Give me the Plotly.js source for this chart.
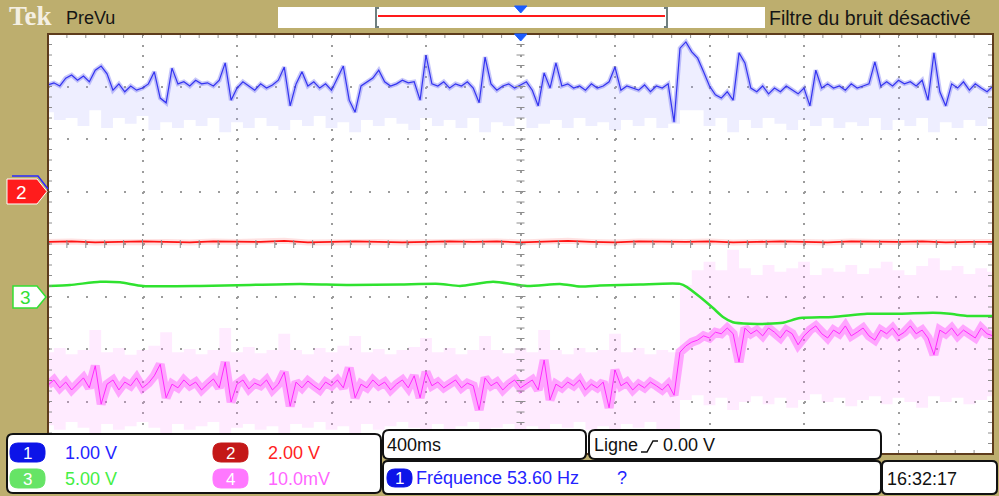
<!DOCTYPE html>
<html><head><meta charset="utf-8">
<script src="https://cdn.plot.ly/plotly-3.0.1.min.js"></script>
<style>html,body{margin:0;padding:0;background:#bdae6e;overflow:hidden}#chart{width:999px;height:496px}</style>
</head><body><div id="chart"></div>
<script>
// ---------------- data (screen divisions, 400 ms/div, trigger at centre) ----------------
const timeStart = -2.0;          // s  (left edge of screen)
const fineStep = 0.025;          // s between samples of ch1 / ch4
const envStep = 0.05;            // s between envelope samples
const ch2Step = 0.1;             // s between ch2 samples

const ch1Div = [3.03,3.07,3.01,3.16,3.22,3.12,3.20,3.09,3.31,3.39,
3.24,2.93,3.05,2.90,3.01,2.93,2.97,3.05,3.28,2.78,
2.69,3.35,3.05,3.09,3.01,3.12,3.05,3.07,3.01,3.12,
3.45,2.74,2.97,3.09,3.01,2.93,3.05,2.97,3.03,3.12,
3.37,2.63,3.05,3.28,3.01,3.09,2.97,3.05,2.93,3.16,
3.39,2.74,2.51,3.01,3.09,3.16,3.31,3.09,3.01,3.05,
3.12,3.07,3.09,2.74,3.60,3.05,3.01,3.09,2.97,3.05,
3.01,3.09,2.97,2.69,3.56,3.05,2.93,3.01,3.05,2.97,
3.03,3.09,2.93,2.63,3.26,2.97,3.45,3.01,3.05,2.97,
3.01,2.93,3.05,2.97,3.01,3.09,3.37,2.93,3.01,2.97,
2.93,3.03,2.90,3.01,2.97,3.05,2.32,3.73,3.85,3.66,
3.54,3.28,3.01,2.84,2.78,2.90,2.74,3.64,3.45,2.97,
2.90,3.01,2.86,2.97,2.90,3.01,2.93,2.86,2.97,2.63,
3.31,2.97,3.05,2.97,3.01,2.93,3.05,2.97,3.01,3.05,
3.47,3.01,3.09,3.01,3.12,3.05,3.09,3.01,3.12,2.74,
3.64,2.90,2.63,3.05,2.97,3.09,2.93,3.05,2.97,2.90,
3.01];

const ch1EnvLow = [2.51,2.36,2.40,2.25,2.55,2.21,2.40,2.29,2.44,2.17,
2.32,2.21,2.36,2.25,2.40,2.13,2.32,2.21,2.40,2.25,
2.17,2.36,2.25,2.44,2.21,2.32,2.13,2.36,2.25,2.40,
2.29,2.17,2.40,2.25,2.36,2.21,2.40,2.13,2.32,2.25,
2.40,2.21,2.29,2.36,2.21,2.40,2.25,2.32,2.17,2.36,
2.25,2.40,2.21,2.29,2.55,2.55,2.25,2.40,2.13,2.36,
2.21,2.40,2.29,2.17,2.36,2.25,2.40,2.21,2.32,2.25,
2.40,2.17,2.36,2.25,2.40,2.13,2.32,2.21,2.36,2.25,
2.40];

const ch2Div = [0.04,0.05,0.03,0.04,0.05,0.04,0.03,0.05,0.04,0.04,
0.06,0.03,0.04,0.05,0.04,0.03,0.04,0.05,0.04,0.05,
0.03,0.04,0.06,0.04,0.03,0.05,0.04,0.04,0.05,0.03,
0.04,0.05,0.04,0.03,0.05,0.04,0.04,0.05,0.03,0.04,0.04];

const ch3Time = [-2.000,-1.907,-1.780,-1.695,-1.598,-1.357,-1.145,-0.933,-0.722,-0.510,
-0.341,-0.256,-0.116,0.028,0.167,0.252,0.336,0.506,0.675,0.705,
0.760,0.815,0.857,0.899,0.971,1.043,1.111,1.183,1.323,1.467,
1.606,1.746,1.818,1.890,2.000];
const ch3Div = [-0.80,-0.78,-0.72,-0.73,-0.80,-0.80,-0.78,-0.76,-0.78,-0.77,
-0.76,-0.80,-0.72,-0.80,-0.76,-0.81,-0.79,-0.77,-0.76,-0.82,
-1.01,-1.22,-1.39,-1.49,-1.52,-1.52,-1.50,-1.41,-1.39,-1.33,
-1.33,-1.31,-1.33,-1.37,-1.37];

const ch4Div = [-2.69,-2.59,-2.74,-2.63,-2.78,-2.67,-2.55,-2.74,-2.32,-3.05,
-2.67,-2.59,-2.78,-2.63,-2.70,-2.55,-2.74,-2.65,-2.51,-2.29,
-2.93,-2.67,-2.74,-2.59,-2.70,-2.63,-2.78,-2.67,-2.57,-2.74,
-2.25,-3.01,-2.67,-2.59,-2.76,-2.65,-2.70,-2.59,-2.78,-2.67,
-2.44,-3.09,-2.63,-2.74,-2.61,-2.70,-2.78,-2.63,-2.70,-2.59,
-2.74,-2.36,-2.93,-2.67,-2.74,-2.59,-2.70,-2.63,-2.78,-2.67,
-2.59,-2.74,-2.51,-2.93,-2.44,-2.70,-2.63,-2.74,-2.67,-2.59,
-2.74,-2.65,-2.70,-3.16,-2.55,-2.70,-2.63,-2.78,-2.67,-2.59,
-2.74,-2.67,-2.59,-2.78,-2.21,-2.97,-2.67,-2.74,-2.63,-2.70,
-2.59,-2.78,-2.67,-2.74,-2.63,-3.12,-2.40,-2.70,-2.63,-2.78,
-2.67,-2.74,-2.63,-2.70,-2.78,-2.67,-2.88,-2.06,-1.94,-1.87,
-1.83,-1.75,-1.79,-1.68,-1.71,-1.60,-1.71,-2.25,-1.60,-1.71,
-1.64,-1.75,-1.60,-1.68,-1.79,-1.64,-1.71,-1.92,-1.75,-1.64,
-1.56,-1.71,-1.79,-1.64,-1.71,-1.56,-1.75,-1.68,-1.60,-1.75,
-1.83,-1.64,-1.71,-1.60,-1.75,-1.68,-1.56,-1.71,-1.64,-1.79,
-2.11,-1.64,-1.71,-1.60,-1.75,-1.64,-1.71,-1.79,-1.60,-1.71,
-1.75];

const ch4EnvHigh = [-2.06,-1.98,-2.10,-2.02,-1.64,-2.06,-1.98,-2.11,-2.02,-1.94,
-1.68,-2.06,-2.00,-2.10,-2.02,-1.60,-2.06,-1.96,-2.08,-2.02,
-1.71,-2.02,-2.10,-1.98,-2.06,-1.94,-1.75,-2.06,-2.00,-2.10,
-2.02,-1.96,-1.79,-2.06,-1.98,-2.10,-2.02,-1.75,-2.02,-2.08,
-1.98,-2.06,-1.64,-2.02,-2.10,-1.98,-2.06,-2.02,-1.71,-2.06,
-1.98,-2.10,-2.02,-2.06,-0.78,-0.50,-0.34,-0.50,-0.11,-0.46,
-0.59,-0.40,-0.53,-0.46,-0.34,-0.59,-0.46,-0.53,-0.40,-0.57,
-0.46,-0.34,-0.50,-0.59,-0.42,-0.27,-0.50,-0.42,-0.57,-0.46,
-0.53];
const ch4EnvLow = [-3.45,-3.54,-3.39,-3.50,-3.70,-3.43,-3.54,-3.47,-3.39,-3.50,
-3.66,-3.43,-3.54,-3.47,-3.39,-3.70,-3.50,-3.43,-3.54,-3.47,
-3.73,-3.43,-3.50,-3.39,-3.54,-3.47,-3.66,-3.43,-3.54,-3.47,
-3.39,-3.50,-3.62,-3.43,-3.54,-3.47,-3.39,-3.66,-3.50,-3.43,
-3.54,-3.47,-3.70,-3.43,-3.50,-3.39,-3.54,-3.47,-3.70,-3.43,
-3.50,-3.39,-3.54,-3.73,-2.97,-2.88,-3.07,-2.93,-3.16,-3.01,
-2.90,-3.05,-2.93,-3.12,-2.97,-2.86,-3.01,-2.93,-3.09,-2.97,
-2.90,-3.05,-2.93,-3.01,-3.12,-2.90,-3.01,-2.93,-3.05,-2.97,
-2.90];

const channelLabels = ['1', '2', '3', '4'];
const channelScales = ['1.00 V', '2.00 V', '5.00 V', '10.0mV'];
const timebaseLabel = '400ms';
const triggerSource = 'Ligne';
const triggerLevel = '0.00 V';
const measureLabel = 'Fréquence 53.60 Hz';
const clockLabel = '16:32:17';
const headerLabels = ['Tek', 'PreVu', 'Filtre du bruit désactivé'];

// ---------------- helpers ----------------
function sampleTimes(n, step) { return Array.from({length: n}, (_, i) => +(timeStart + i * step).toFixed(4)); }
const tFine = sampleTimes(ch1Div.length, fineStep);
const tEnv = sampleTimes(ch1EnvLow.length, envStep);
const tCh2 = sampleTimes(ch2Div.length, ch2Step);

const ML = 48, MR = 6, MT = 34, MB = 42, W = 999, H = 496;
const PW = W - ML - MR, PH = H - MT - MB;
const X = px => (px - ML) / PW;
const Y = py => (H - MB - py) / PH;
const shapes = [];
const annotations = [];
function seg(x0, y0, x1, y1, color, width) {
  shapes.push({type: 'line', xref: 'paper', yref: 'paper', x0: X(x0), y0: Y(y0), x1: X(x1), y1: Y(y1), line: {color: color, width: width}});
}
function poly(pts, fill, color, width, closed) {
  const d = 'M' + pts.map(p => X(p[0]).toFixed(5) + ',' + Y(p[1]).toFixed(5)).join('L') + (closed === false ? '' : 'Z');
  shapes.push({type: 'path', xref: 'paper', yref: 'paper', path: d, fillcolor: fill || 'rgba(0,0,0,0)', line: {color: color || 'rgba(0,0,0,0)', width: width || 0}});
}
function rrect(x0, y0, x1, y1, r, fill, color, width) {
  const f = (a, b) => X(a).toFixed(5) + ',' + Y(b).toFixed(5);
  const d = 'M' + f(x0 + r, y0) + 'L' + f(x1 - r, y0) + 'Q' + f(x1, y0) + ' ' + f(x1, y0 + r) +
    'L' + f(x1, y1 - r) + 'Q' + f(x1, y1) + ' ' + f(x1 - r, y1) +
    'L' + f(x0 + r, y1) + 'Q' + f(x0, y1) + ' ' + f(x0, y1 - r) +
    'L' + f(x0, y0 + r) + 'Q' + f(x0, y0) + ' ' + f(x0 + r, y0) + 'Z';
  shapes.push({type: 'path', xref: 'paper', yref: 'paper', path: d, fillcolor: fill, line: {color: color || 'rgba(0,0,0,0)', width: width || 0}});
}
function txt(text, px, py, size, color, anchor, family) {
  annotations.push({text: text, xref: 'paper', yref: 'paper', x: X(px), y: Y(py), showarrow: false,
    xanchor: anchor || 'left', yanchor: 'middle', font: {size: size, color: color, family: family || 'Liberation Sans, Arial, sans-serif'}});
}

// ---------------- graticule ticks ----------------
const tickCol = '#8e8e8e';
const dx = PW / 50, dy = PH / 40;
for (let k = 1; k < 50; k++) {
  const x = ML + k * dx;
  seg(x, MT, x, MT + 4, tickCol, 1);
  seg(x, H - MB, x, H - MB - 4, tickCol, 1);
  const big = k % 5 === 0 ? 5 : 4;
  seg(x, 244 - big, x, 244 + big, tickCol, 1);
}
for (let k = 1; k < 40; k++) {
  const y = MT + k * dy;
  seg(ML, y, ML + 4, y, tickCol, 1);
  seg(W - MR, y, W - MR - 5, y, tickCol, 1);
  const big = k % 5 === 0 ? 5 : 4;
  seg(520.5 - big, y, 520.5 + big, y, tickCol, 1);
}
// plot frame
shapes.push({type: 'rect', xref: 'paper', yref: 'paper', x0: 0, y0: 0, x1: 1, y1: 1, line: {color: '#5e3c1c', width: 2}, fillcolor: 'rgba(0,0,0,0)'});

// ---------------- header ----------------
shapes.push({type: 'rect', xref: 'paper', yref: 'paper', x0: X(278), x1: X(765), y0: Y(28), y1: Y(7), fillcolor: '#ffffff', line: {width: 0}});
poly([[379, 8], [376, 8], [376, 27], [379, 27]], null, '#6f7f7f', 2, false);
poly([[664, 8], [667, 8], [667, 27], [664, 27]], null, '#6f7f7f', 2, false);
seg(378, 16, 665, 16, '#ff1a1a', 2);
poly([[514.5, 6], [527, 6], [520.7, 13]], '#1a5cff', '#1a5cff', 1);
poly([[514.5, 34], [527, 34], [520.7, 41]], '#1a5cff', '#1a5cff', 1);
txt('<b>' + headerLabels[0] + '</b>', 7, 16, 27, '#f4efe2', 'left', 'Liberation Serif, Times New Roman, serif');
txt(headerLabels[1], 64, 18, 18, '#151515');
txt(headerLabels[2], 767, 18, 19.5, '#151515');

// ---------------- channel ground markers ----------------
poly([[12, 176], [38, 176], [48, 189]], null, '#2a2aff', 1.5, false);
poly([[7, 179], [37, 179], [47, 191.5], [37, 204], [7, 204]], '#ff1c1c', '#ffffff', 1);
txt(channelLabels[1], 21, 192, 19, '#ffffff', 'center');
poly([[13, 286], [37, 286], [46, 297], [37, 308], [13, 308]], '#ffffff', '#33e033', 1.5);
txt(channelLabels[2], 25, 297, 19, '#33e033', 'center');

// ---------------- bottom read-outs ----------------
rrect(7, 434, 381, 493, 6, '#ffffff', '#111111', 2);
rrect(383, 430, 586, 459, 6, '#ffffff', '#111111', 2);
rrect(589, 430, 881, 459, 6, '#ffffff', '#111111', 2);
rrect(383, 461, 881, 494, 5, '#ffffff', '#111111', 2);
rrect(882, 461, 997, 494, 5, '#ffffff', '#111111', 2);
const badgeFill = ['#0c14e8', '#c41818', '#66e466', '#ff78ff'];
const labelCol = ['#2424ff', '#ff2222', '#44ee44', '#ff66ff'];
const badgePos = [[10, 443, 45, 462], [213, 443, 248, 462], [10, 469, 45, 488], [213, 469, 248, 488]];
for (let c = 0; c < 4; c++) {
  const b = badgePos[c];
  rrect(b[0], b[1], b[2], b[3], 8, badgeFill[c], badgeFill[c], 1);
  txt(channelLabels[c], (b[0] + b[2]) / 2, (b[1] + b[3]) / 2 + 0.5, 17, '#ffffff', 'center');
  txt(channelScales[c], b[0] + 53, (b[1] + b[3]) / 2, 18, labelCol[c]);
}
txt(timebaseLabel, 385, 445, 18, '#111111');
txt(triggerSource, 592, 445, 18, '#111111');
poly([[641, 452], [647, 452], [653, 441], [658, 441]], null, '#111111', 1.5, false);
txt(triggerLevel, 661, 445, 18, '#111111');
rrect(387, 469, 412, 487, 8, badgeFill[0], badgeFill[0], 1);
txt(channelLabels[0], 399.5, 478.5, 17, '#ffffff', 'center');
txt(measureLabel, 414, 478, 18, '#2424ff');
txt('?', 615, 478, 18, '#2424ff');
txt(clockLabel, 885, 479, 18, '#111111');

// ---------------- traces ----------------
const traces = [
  {x: tEnv, y: ch4EnvHigh, mode: 'lines', line: {width: 0, color: 'rgba(0,0,0,0)', shape: 'hvh'}},
  {x: tEnv, y: ch4EnvLow, mode: 'lines', line: {width: 0, color: 'rgba(0,0,0,0)', shape: 'hvh'}, fill: 'tonexty', fillcolor: 'rgba(255,150,255,0.19)'},
  {x: tEnv, y: ch1EnvLow, mode: 'lines', line: {width: 0, color: 'rgba(0,0,0,0)', shape: 'hvh'}},
  {x: tFine, y: ch1Div, mode: 'lines', fill: 'tonexty', fillcolor: 'rgba(170,170,255,0.2)', line: {color: 'rgba(70,70,240,0.3)', width: 4.5}},
  {x: tFine, y: ch1Div, mode: 'lines', line: {color: '#3434f0', width: 1.2}},
  {x: tFine, y: ch4Div, mode: 'lines', line: {color: 'rgba(255,60,255,0.4)', width: 9}},
  {x: tFine, y: ch4Div, mode: 'lines', line: {color: '#ff2cff', width: 1}},
  {x: ch3Time, y: ch3Div, mode: 'lines', line: {color: '#2fe22f', width: 2.5, shape: 'spline', smoothing: 0.6}},
  {x: tCh2, y: ch2Div, mode: 'lines', line: {color: 'rgba(255,90,90,0.18)', width: 6}},
  {x: tCh2, y: ch2Div, mode: 'lines', line: {color: '#ff1414', width: 1.8}}
];

const layout = {
  width: W, height: H,
  margin: {l: ML, r: MR, t: MT, b: MB, pad: 0},
  paper_bgcolor: '#bdae6e', plot_bgcolor: '#ffffff',
  showlegend: false, hovermode: false,
  xaxis: {range: [-2, 2], tick0: -2, dtick: 0.4, showgrid: true, gridcolor: '#9c9c9c', gridwidth: 2,
    griddash: '2px,8.5px', zeroline: false, showticklabels: false, ticks: '', showline: false, fixedrange: true},
  yaxis: {range: [-4, 4], tick0: -4, dtick: 1, showgrid: true, gridcolor: '#9c9c9c', gridwidth: 2,
    griddash: '2px,16.9px', zeroline: false, showticklabels: false, ticks: '', showline: false, fixedrange: true},
  shapes: shapes,
  annotations: annotations
};
Plotly.newPlot('chart', traces, layout, {staticPlot: true, displayModeBar: false});
</script>
</body></html>
